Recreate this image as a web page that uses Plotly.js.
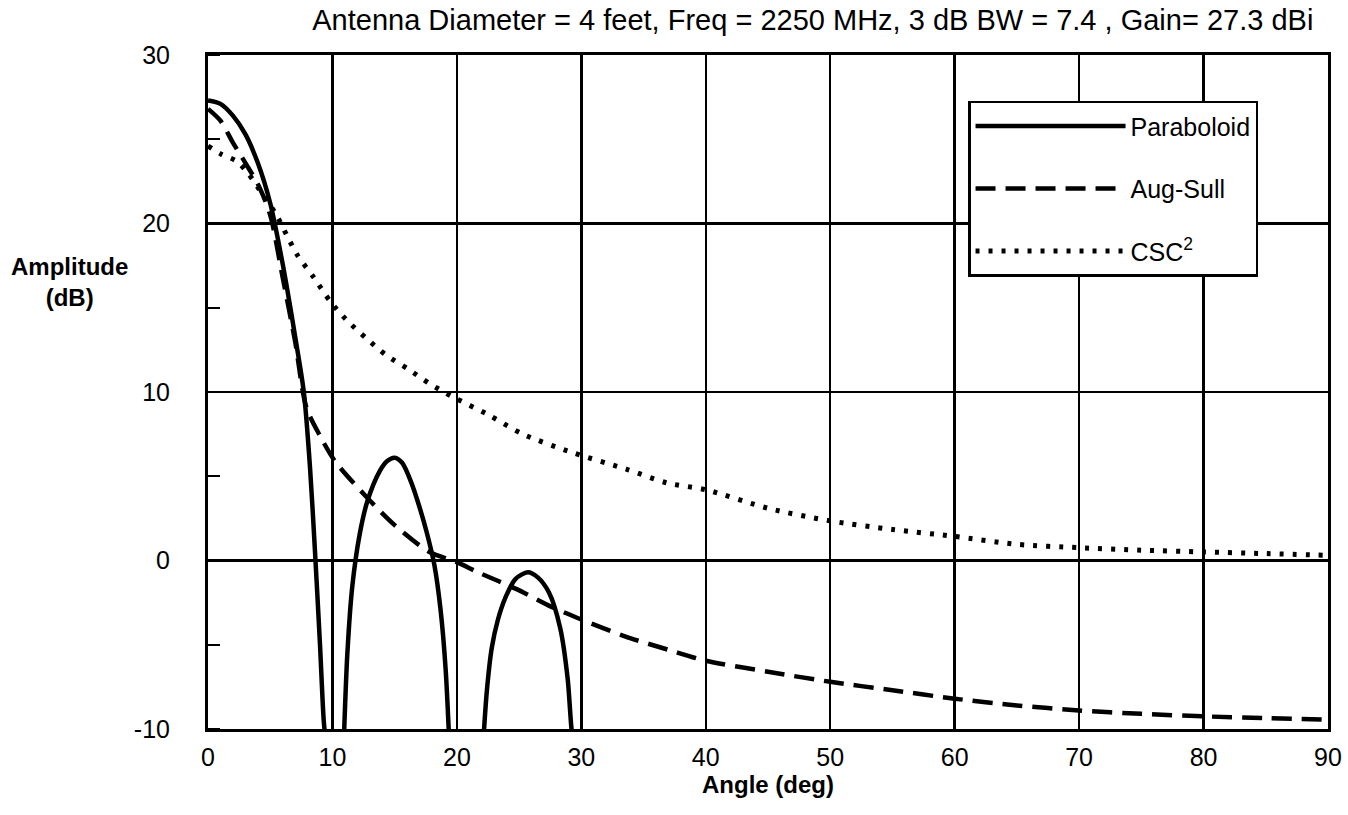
<!DOCTYPE html>
<html>
<head>
<meta charset="utf-8">
<script src="https://cdn.plot.ly/plotly-3.0.1.min.js"></script>
<style>html,body{margin:0;padding:0;background:#fff;}#chart{width:1348px;height:815px;}</style>
</head>
<body>
<div id="chart"></div>
<script>
// Paraboloid pattern (three visible lobes, nulls fall below the -10 dB floor)
const paraAngle = [0, 1, 2, 3, 4, 5, 6, 7, 7.7, 8.2, 8.6, 9.0, 9.3, 9.5, null,
  10.9, 11.2, 11.6, 12.2, 12.8, 13.8, 14.4, 15.0, 15.6, 16.3, 16.9, 17.6, 18.2, 18.7, 19.1, 19.4, null,
  22.1, 22.4, 22.8, 23.3, 23.9, 24.7, 25.7, 26.5, 27.4, 28.3, 28.9, 29.2, 29.4];
const paraAmp = [27.3, 27.1, 26.4, 25.3, 23.6, 21.2, 17.6, 13.3, 10.0, 5.5, 0.5, -5.0, -9.5, -11, null,
  -11, -5.5, -1.5, 1.6, 3.5, 5.3, 5.9, 6.1, 5.8, 4.7, 3.4, 1.6, -0.3, -3.0, -6.5, -11, null,
  -11, -7.8, -5.2, -3.5, -2.2, -1.1, -0.7, -1.0, -1.9, -4.0, -7.0, -9.9, -11];

// Aug-Sull pattern
const augAngle = [0, 1, 2, 3, 4.1, 5, 6, 7, 7.9, 9, 10.2, 12.7, 15, 17.8, 20, 21.7, 24.8, 27.6, 30, 33.5, 37, 40, 45, 50, 55, 60, 65, 70, 75, 80, 85, 90];
const augAmp = [26.8, 26.1, 24.8, 23.6, 22.2, 20.5, 16.8, 13.0, 9.1, 7.4, 5.9, 3.8, 2.1, 0.5, -0.1, -0.7, -1.7, -2.75, -3.5, -4.5, -5.3, -5.95, -6.6, -7.2, -7.7, -8.2, -8.6, -8.9, -9.1, -9.25, -9.35, -9.45];

// CSC^2 pattern
const cscAngle = [0, 1.1, 2.3, 3.2, 4.5, 5.5, 6.4, 7.2, 8.5, 9.8, 11.1, 12.7, 14.3, 16, 17.8, 19.7, 22.4, 25.3, 29.3, 33.7, 36.9, 40, 45, 50, 55, 60, 65, 70, 75, 80, 85, 90];
const cscAmp = [24.6, 24.1, 23.7, 23.0, 21.6, 20.5, 19.2, 18.1, 16.8, 15.4, 14.3, 13.2, 12.2, 11.4, 10.5, 9.7, 8.7, 7.5, 6.4, 5.4, 4.6, 4.2, 3.1, 2.35, 1.84, 1.43, 0.96, 0.76, 0.61, 0.51, 0.41, 0.31];

const seriesNames = ['Paraboloid', 'Aug-Sull', 'CSC<sup>2</sup>'];
const xTicks = [0, 10, 20, 30, 40, 50, 60, 70, 80, 90];
const yTicks = [-10, 0, 10, 20, 30];
const chartTitle = 'Antenna Diameter = 4 feet, Freq = 2250 MHz, 3 dB BW = 7.4 , Gain= 27.3 dBi';

const FONT = 'Liberation Sans, Arial, Helvetica, sans-serif';

const traces = [
  {x: paraAngle, y: paraAmp, name: seriesNames[0], mode: 'lines', connectgaps: false,
   line: {color: '#000', width: 4.5, shape: 'spline', smoothing: 0.8}},
  {x: augAngle, y: augAmp, name: seriesNames[1], mode: 'lines',
   line: {color: '#000', width: 4.5, dash: '20px,10px', shape: 'spline', smoothing: 0.8}},
  {x: cscAngle, y: cscAmp, name: seriesNames[2], mode: 'lines',
   line: {color: '#000', width: 5, dash: '4px,9px', shape: 'spline', smoothing: 0.8}}
];
traces.forEach((t, i) => { t.legendgroup = 'g' + i; });

const layout = {
  width: 1348, height: 815,
  paper_bgcolor: '#fff', plot_bgcolor: '#fff',
  margin: {l: 208, r: 20, t: 55, b: 86, pad: 0},
  font: {family: FONT, color: '#000', size: 26},
  title: {text: chartTitle, font: {family: FONT, size: 29, color: '#000'},
          xref: 'paper', x: 0.54, xanchor: 'center', yref: 'container', y: 0.976, yanchor: 'middle'},
  xaxis: {range: [0, 90], tickvals: xTicks, ticktext: xTicks.map(String),
          showgrid: true, gridcolor: '#000', gridwidth: 2.5,
          showline: true, linecolor: '#000', linewidth: 3, mirror: true,
          ticks: '', zeroline: false, ticklabelstandoff: 4,
          tickfont: {family: FONT, size: 25, color: '#000'},
          title: {text: 'Angle (deg)', standoff: 0, font: {family: FONT, size: 24, color: '#000', weight: 'bold'}}},
  yaxis: {range: [-10, 30], tickvals: yTicks, ticktext: yTicks.map(String),
          showgrid: true, gridcolor: '#000', gridwidth: 2.5,
          showline: true, linecolor: '#000', linewidth: 3, mirror: true,
          ticks: '', zeroline: false, ticklabelstandoff: 30,
          tickfont: {family: FONT, size: 25, color: '#000'},
          minor: {dtick: 5, tick0: 0, ticks: 'inside', ticklen: 12, tickwidth: 2, tickcolor: '#000', showgrid: false}},
  showlegend: true,
  legend: {x: 0.6786, xanchor: 'left', y: 0.932, yanchor: 'top',
           bgcolor: '#fff', bordercolor: '#000', borderwidth: 2.5,
           font: {family: FONT, size: 25, color: '#000'},
           traceorder: 'grouped', tracegroupgap: 27, itemwidth: 150},
  annotations: [{text: 'Amplitude<br>(dB)', xref: 'paper', yref: 'paper', x: -0.124, y: 0.663,
                 xanchor: 'center', yanchor: 'middle', showarrow: false,
                 font: {family: FONT, size: 24, color: '#000', weight: 'bold'}}]
};

Plotly.newPlot('chart', traces, layout, {displayModeBar: false, staticPlot: true});
</script>
</body>
</html>
